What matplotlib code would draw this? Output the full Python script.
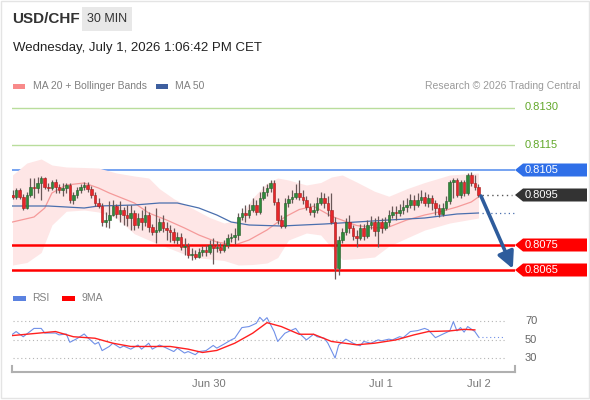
import numpy as np
import matplotlib
matplotlib.use("Agg")
import matplotlib.pyplot as plt
from matplotlib.patches import Rectangle, Polygon
import matplotlib.transforms as mtransforms

plt.rcParams["font.family"] = ["Liberation Sans", "DejaVu Sans"]

# ---------------------------------------------------------------------------
# Data (USD/CHF, 30 min candles)
# ---------------------------------------------------------------------------
first_open = 0.8095
closes = [
    0.80942, 0.8097, 0.80942, 0.80898, 0.8095, 0.80982, 0.80978, 0.80998, 0.81018, 0.80982,
    0.80978, 0.81002, 0.80982, 0.8097, 0.80978, 0.8099, 0.8093, 0.8095, 0.8097, 0.80982,
    0.8099, 0.80974, 0.8095, 0.80918, 0.80906, 0.80842, 0.8085, 0.8087, 0.80906, 0.80874,
    0.8089, 0.8087, 0.80858, 0.80878, 0.8083, 0.80858, 0.80842, 0.8087, 0.80822, 0.80802,
    0.8081, 0.80842, 0.80818, 0.8081, 0.80802, 0.8077, 0.80782, 0.80742, 0.80746, 0.8071,
    0.80714, 0.80702, 0.80722, 0.8073, 0.80722, 0.8075, 0.80738, 0.80742, 0.8073, 0.8075,
    0.80778, 0.80782, 0.8079, 0.80862, 0.80878, 0.8087, 0.8089, 0.8091, 0.80882, 0.80938,
    0.80962, 0.80978, 0.80998, 0.80922, 0.8085, 0.80826, 0.80918, 0.80934, 0.80942, 0.80958,
    0.80942, 0.8093, 0.80902, 0.80882, 0.8089, 0.80918, 0.80938, 0.80918, 0.8089, 0.80842,
    0.80658, 0.8077, 0.80802, 0.80842, 0.80818, 0.80786, 0.80778, 0.80818, 0.80786, 0.8083,
    0.80842, 0.80806, 0.80842, 0.80818, 0.80842, 0.8087, 0.80882, 0.80878, 0.8089, 0.80902,
    0.8091, 0.8093, 0.8091, 0.8093, 0.80942, 0.80918, 0.80938, 0.80918, 0.80898, 0.80874,
    0.80898, 0.80926, 0.81002, 0.8101, 0.8095, 0.81002, 0.80958, 0.8103, 0.80998, 0.80982,
    0.8095,
]
highs = [
    0.8097, 0.80978, 0.80978, 0.80954, 0.80962, 0.81018, 0.81018, 0.81022, 0.81026, 0.81022,
    0.80998, 0.8101, 0.81014, 0.80994, 0.80998, 0.80998, 0.80998, 0.80962, 0.80982, 0.80994,
    0.81002, 0.81002, 0.80986, 0.80962, 0.80938, 0.80918, 0.80882, 0.80926, 0.8093, 0.80914,
    0.80926, 0.80902, 0.8091, 0.8091, 0.8089, 0.80878, 0.8089, 0.80906, 0.80882, 0.80834,
    0.80898, 0.80858, 0.8087, 0.80842, 0.8083, 0.80818, 0.80802, 0.80798, 0.80778, 0.80758,
    0.80738, 0.8073, 0.80738, 0.80746, 0.8075, 0.8077, 0.80778, 0.80766, 0.80758, 0.8077,
    0.80794, 0.80798, 0.80818, 0.80878, 0.80898, 0.8091, 0.80914, 0.80938, 0.8093, 0.80962,
    0.80986, 0.80994, 0.8101, 0.8101, 0.80938, 0.8087, 0.80938, 0.8095, 0.8097, 0.80994,
    0.8101, 0.8097, 0.80946, 0.80918, 0.80918, 0.80942, 0.80962, 0.80958, 0.80946, 0.80958,
    0.80862, 0.80786, 0.80818, 0.80858, 0.8087, 0.8083, 0.8081, 0.80834, 0.80834, 0.8085,
    0.80866, 0.80858, 0.80866, 0.80858, 0.80862, 0.8089, 0.80906, 0.80906, 0.80914, 0.8093,
    0.80938, 0.80954, 0.8095, 0.80958, 0.8097, 0.80962, 0.80954, 0.8095, 0.8093, 0.80914,
    0.80918, 0.80946, 0.8101, 0.81018, 0.81018, 0.8101, 0.8101, 0.81038, 0.81042, 0.8103,
    0.80994,
]
lows = [
    0.80934, 0.80934, 0.80934, 0.8089, 0.80894, 0.80942, 0.80938, 0.80958, 0.8093, 0.80974,
    0.80966, 0.8097, 0.80958, 0.80958, 0.80946, 0.80958, 0.80918, 0.80914, 0.80938, 0.80958,
    0.8097, 0.80962, 0.80938, 0.80906, 0.80898, 0.80826, 0.80822, 0.80818, 0.80866, 0.80858,
    0.80842, 0.8083, 0.80826, 0.8081, 0.8081, 0.80818, 0.8081, 0.80826, 0.80802, 0.8079,
    0.80758, 0.80802, 0.80802, 0.8077, 0.80762, 0.80758, 0.80754, 0.8073, 0.8071, 0.80698,
    0.8069, 0.80694, 0.80698, 0.80706, 0.80706, 0.80714, 0.80674, 0.80722, 0.80718, 0.80722,
    0.80738, 0.80762, 0.80754, 0.8077, 0.8085, 0.80842, 0.80858, 0.80882, 0.8087, 0.80874,
    0.8093, 0.80946, 0.80962, 0.8091, 0.80834, 0.80818, 0.80818, 0.80902, 0.80918, 0.80934,
    0.8093, 0.80914, 0.8089, 0.8087, 0.80862, 0.80878, 0.8091, 0.80898, 0.80866, 0.80834,
    0.80614, 0.8063, 0.80758, 0.8079, 0.80798, 0.8077, 0.80742, 0.8077, 0.8077, 0.80778,
    0.80814, 0.80786, 0.80742, 0.80798, 0.8081, 0.80826, 0.80858, 0.8085, 0.80866, 0.80874,
    0.80882, 0.80898, 0.8089, 0.80902, 0.80918, 0.80906, 0.80902, 0.8089, 0.8087, 0.80862,
    0.80866, 0.8089, 0.80914, 0.80938, 0.80942, 0.80938, 0.80946, 0.8095, 0.80986, 0.8097,
    0.80942,
]

# Moving averages / Bollinger bands (read at sample candles)
ma20_t = [0, 6, 9, 11, 15, 20, 24, 27, 34, 38, 43, 48, 52, 57, 62, 66, 71, 76, 80, 84, 89, 96, 101, 105, 110, 115, 119, 124, 128, 130]
ma20 = [0.80842, 0.80862, 0.80898, 0.80958, 0.8099, 0.80998, 0.80978, 0.80958, 0.80918, 0.80878,
        0.8085, 0.80818, 0.8079, 0.80762, 0.8075, 0.8077, 0.8081, 0.80862, 0.80892, 0.80905,
        0.80865, 0.80828, 0.80818, 0.80822, 0.8085, 0.8087, 0.80882, 0.80902, 0.80922, 0.80942]
ma50_t = [0, 10, 15, 20, 24, 34, 41, 46, 52, 57, 61, 66, 75, 87, 96, 105, 115, 124, 130]
ma50 = [0.80906, 0.80906, 0.80902, 0.80898, 0.80906, 0.8091, 0.80918, 0.80918, 0.80898, 0.8087,
        0.80842, 0.8083, 0.80826, 0.80834, 0.80842, 0.8085, 0.80858, 0.80874, 0.80878]
band_t = [0, 4, 8, 11, 15, 20, 24, 29, 34, 38, 41, 45, 50, 55, 59, 63, 67, 71, 74, 77, 82, 86, 89, 92, 96, 101, 105, 110, 115, 122, 130]
band_up = [0.8103, 0.81078, 0.81094, 0.8107, 0.81062, 0.8106, 0.81058, 0.81038, 0.81026, 0.81018,
           0.80975, 0.80935, 0.80898, 0.8086, 0.80838, 0.8085, 0.80938, 0.80998, 0.81018, 0.8101,
           0.8099, 0.81, 0.81022, 0.8103, 0.81002, 0.80965, 0.80945, 0.80975, 0.81, 0.8103, 0.81038]
band_lo = [0.8067, 0.8068, 0.8072, 0.8083, 0.80885, 0.8089, 0.80882, 0.80858, 0.80795, 0.8077,
           0.80752, 0.8073, 0.80702, 0.80694, 0.80688, 0.8067, 0.80672, 0.80678, 0.807, 0.8077,
           0.80798, 0.8079, 0.8074, 0.80692, 0.80695, 0.80702, 0.80745, 0.80778, 0.8081, 0.80838, 0.80858]

# key levels
green_levels = [0.8130, 0.8115]
resistance = 0.8105
supports = [0.8075, 0.8065]
last_price = 0.8095

# RSI panel
rsi_t = [0, 1, 3, 6, 8, 9, 12, 13, 15, 16, 18, 20, 21, 23, 24, 25, 27, 28, 30, 31,
         33, 35, 36, 38, 39, 41, 42, 45, 46, 48, 49, 51, 52, 54, 56, 57, 59, 61, 62, 64,
         66, 68, 69, 70, 71, 73, 74, 76, 77, 79, 80, 82, 84, 85, 87, 88, 90, 91, 93, 95,
         97, 98, 100, 102, 103, 105, 106, 108, 109, 111, 113, 115, 116, 118, 120, 122, 123, 124, 125, 126,
         127, 129, 130]
rsi = [55.7, 58.6, 53, 62, 62, 57, 57, 55, 56, 47, 51, 56, 52, 45, 47, 38, 42.5, 46, 41, 43,
       39.6, 44, 39.6, 46, 39.6, 44, 42.5, 37, 40.7, 35.4, 37, 33.6, 37, 38, 43.6, 40.7, 45, 49.6, 51.4, 62.9,
       64, 67.5, 74, 70, 73.6, 58.6, 47.9, 56.8, 58.6, 62, 56.8, 49.6, 55.7, 53, 51.4, 46, 30, 44, 50.4, 46,
       43.2, 47.9, 46, 49.6, 48.6, 50.4, 49.6, 53, 52, 58.6, 59.6, 62, 60.4, 52, 55.7, 59.3, 69.3, 59.3, 62.9, 58,
       64, 58.6, 53]
ma9_t = [0, 7, 12, 17, 23, 28, 33, 39, 44, 49, 53, 57, 62, 67, 71, 75, 80, 84, 89, 96, 101, 107, 112, 116, 122, 126, 129]
ma9 = [54.3, 56.8, 58.6, 53, 51.4, 46, 42.5, 42.5, 42.5, 39.6, 36, 38.2, 46, 56.8, 68.2, 64, 55.7, 55.7,
       47.9, 44.3, 46, 49.6, 55, 58.6, 59.3, 61, 60.4]
rsi_levels = [70, 50, 30]

date_pos = [54.8, 102.8, 130.2]
date_labels = ["Jun 30", "Jul 1", "Jul 2"]

# ---------------------------------------------------------------------------
W, H = 590, 400
fig = plt.figure(figsize=(W / 100, H / 100), dpi=100)
fig.patch.set_facecolor("white")


def fx(px):
    return px / W


def fy(py):
    return 1 - py / H


fig.patches.append(Rectangle((fx(1), fy(398)), fx(588), 397 / H, transform=fig.transFigure,
                             fill=False, edgecolor="#e4e4e4", lw=1))

# header
fig.text(fx(12), fy(19), "USD/CHF", fontsize=11, fontweight="bold", color="#333333", va="center")
fig.patches.append(Rectangle((fx(82), fy(31)), fx(50), 24 / H, transform=fig.transFigure,
                             facecolor="#e8e8e8", edgecolor="none"))
fig.text(fx(107), fy(19), "30 MIN", fontsize=9, color="#333333", va="center", ha="center")
fig.text(fx(13), fy(48), "Wednesday, July 1, 2026 1:06:42 PM CET", fontsize=9.5,
         color="#222222", va="center")

# legend main
fig.patches.append(Rectangle((fx(13), fy(89)), fx(12), 5 / H, transform=fig.transFigure,
                             facecolor="#f88a8a", edgecolor="none"))
fig.text(fx(33), fy(86), "MA 20 + Bollinger Bands", fontsize=7.5, color="#808080", va="center")
fig.patches.append(Rectangle((fx(156), fy(89)), fx(12), 5 / H, transform=fig.transFigure,
                             facecolor="#3e5f9f", edgecolor="none"))
fig.text(fx(175), fy(86), "MA 50", fontsize=7.5, color="#808080", va="center")
fig.text(fx(580), fy(86), "Research \u00a9 2026 Trading Central", fontsize=7.5,
         color="#9a9a9a", va="center", ha="right")

# main price axes
ax = fig.add_axes([fx(12), fy(280), fx(503), 180 / H])
ax.set_xlim(-0.14, 140.2)
ax.set_ylim(0.8061, 0.8133)
ax.axis("off")

ax.fill_between(band_t, band_lo, band_up, color="#fee6e6", lw=0, zorder=1)
ax.plot(ma20_t, ma20, color="#f59a9a", lw=0.9, zorder=2)
ax.plot(ma50_t, ma50, color="#4a6fae", lw=0.9, zorder=2)
ax.plot([ma50_t[-1] + 1, 140], [ma50[-1], ma50[-1]], color="#4a6fae", lw=0.9, ls=(0, (1, 2.5)))

for lv in green_levels:
    ax.axhline(lv, color="#b9dd9c", lw=1.0, zorder=0)
ax.axhline(resistance, color="#6b9cf0", lw=1.3, zorder=0)
for lv in supports:
    ax.axhline(lv, color="#ff0000", lw=1.8, zorder=3)

n = len(closes)
t = np.arange(n)
opens = np.array([first_open] + closes[:-1])
closes_a = np.array(closes)
up = closes_a >= opens
ax.vlines(t, lows, highs, color="#6a5858", lw=0.9, zorder=4)
body_lo = np.minimum(opens, closes_a)
body_h = np.maximum(np.abs(closes_a - opens), 0.00003)
ax.bar(t[up], body_h[up], bottom=body_lo[up], width=0.72, color="#2f8a3a",
       edgecolor="#245c2a", lw=0.4, zorder=5)
ax.bar(t[~up], body_h[~up], bottom=body_lo[~up], width=0.72, color="#e8262a",
       edgecolor="#a31c1c", lw=0.4, zorder=5)

ax.plot([n, 139.5], [last_price, last_price], color="#555555", lw=1, ls=(0, (1, 2.5)))

ax.annotate("", xy=(139.6, 0.80655), xytext=(130.7, 0.80946),
            arrowprops=dict(arrowstyle="-|>,head_length=1.0,head_width=0.5",
                            color="#2e5c9c", lw=2.6, shrinkA=0, shrinkB=0), zorder=6)

# right side labels
trans = mtransforms.blended_transform_factory(fig.transFigure, ax.transData)
half = 0.00026
for lv in green_levels:
    ax.text(fx(525), lv, f"{lv:.4f}", transform=trans, fontsize=8, color="#62a82a",
            va="center", ha="left", clip_on=False)
tag_levels = [resistance, last_price] + supports
tag_colors = ["#2f6fe8", "#333333", "#ff0000", "#ff0000"]
for lv, col in zip(tag_levels, tag_colors):
    pts = [(fx(515), lv), (fx(523), lv + half), (fx(587), lv + half),
           (fx(587), lv - half), (fx(523), lv - half)]
    ax.add_patch(Polygon(pts, closed=True, transform=trans, facecolor=col,
                         edgecolor="none", clip_on=False, zorder=7))
    ax.text(fx(525), lv, f"{lv:.4f}", transform=trans, fontsize=8, color="white",
            va="center", ha="left", clip_on=False, zorder=8)

# RSI legend
fig.patches.append(Rectangle((fx(13), fy(301)), fx(13), 5 / H, transform=fig.transFigure,
                             facecolor="#5b82e0", edgecolor="none"))
fig.text(fx(32), fy(298), "RSI", fontsize=7.5, color="#808080", va="center")
fig.patches.append(Rectangle((fx(62), fy(301)), fx(13), 5 / H, transform=fig.transFigure,
                             facecolor="#ff0000", edgecolor="none"))
fig.text(fx(82), fy(298), "9MA", fontsize=7.5, color="#808080", va="center")

# RSI axes
ax2 = fig.add_axes([fx(12), fy(372), fx(503), 67 / H])
ax2.set_xlim(-0.14, 140.2)
ax2.set_ylim(14.9, 87.3)
for s in ["top", "left", "right"]:
    ax2.spines[s].set_visible(False)
ax2.spines["bottom"].set_color("#b0b0b0")
ax2.spines["bottom"].set_linewidth(1.5)
ax2.set_yticks([])
ax2.set_xticks(date_pos)
ax2.set_xticklabels(date_labels, fontsize=8, color="#777777")
ax2.tick_params(axis="x", length=0, pad=5)
ax2.plot([0, 0], [0, 0.09], transform=ax2.transAxes, color="#b0b0b0", lw=1.5, clip_on=False)
ax2.plot([1, 1], [0, 0.09], transform=ax2.transAxes, color="#b0b0b0", lw=1.5, clip_on=False)

trans2 = mtransforms.blended_transform_factory(fig.transFigure, ax2.transData)
for lv in rsi_levels:
    ax2.plot([0, 137.5], [lv, lv], color="#b5b5b5", lw=0.8, ls=(0, (1, 2.5)))
    ax2.text(fx(525), lv, str(lv), transform=trans2, fontsize=8, color="#666666",
             va="center", ha="left")
ax2.plot(rsi_t, rsi, color="#7090e8", lw=0.8)
ax2.plot([rsi_t[-1], 137.5], [rsi[-1], rsi[-1]], color="#7090e8", lw=0.8, ls=(0, (1, 2.5)))
ax2.plot(ma9_t, ma9, color="#ff2020", lw=1.0)

fig.savefig("out.png", dpi=100)
